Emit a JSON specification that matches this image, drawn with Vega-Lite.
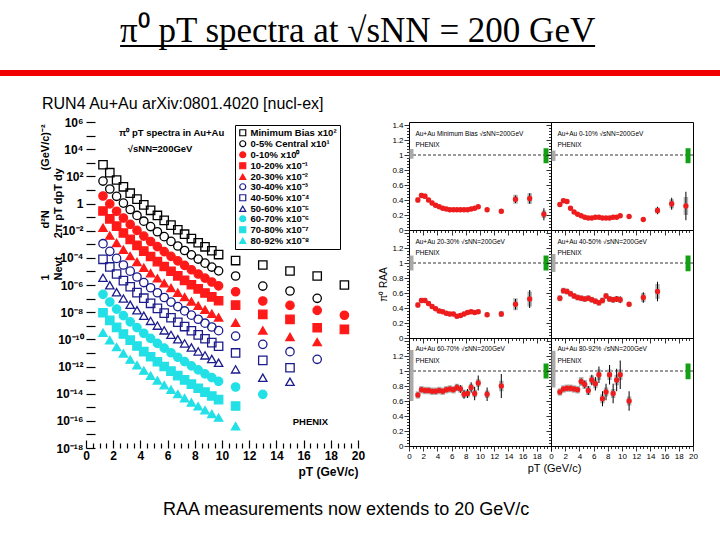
{
"$schema": "https://vega.github.io/schema/vega-lite/v6.json",
"background": "white",
"padding": {"left": 0, "top": 14, "right": 0, "bottom": 0},
"config": {
  "font": "Liberation Sans",
  "axis": {"labelFont": "Liberation Sans", "titleFont": "Liberation Sans", "labelColor": "black", "titleColor": "black", "tickColor": "black", "domain": false, "grid": false, "labelOverlap": false, "labelFlush": false},
  "title": {"color": "black"},
  "view": {"stroke": null}
},
"datasets": {
"spectra": [
{"series":"Minimum Bias x10²","pt":1.25,"log_yield":2.85},{"series":"Minimum Bias x10²","pt":1.75,"log_yield":2.27},{"series":"Minimum Bias x10²","pt":2.25,"log_yield":1.73},{"series":"Minimum Bias x10²","pt":2.75,"log_yield":1.23},{"series":"Minimum Bias x10²","pt":3.25,"log_yield":0.76},{"series":"Minimum Bias x10²","pt":3.75,"log_yield":0.32},{"series":"Minimum Bias x10²","pt":4.25,"log_yield":-0.10},{"series":"Minimum Bias x10²","pt":4.75,"log_yield":-0.50},{"series":"Minimum Bias x10²","pt":5.25,"log_yield":-0.88},{"series":"Minimum Bias x10²","pt":5.75,"log_yield":-1.24},{"series":"Minimum Bias x10²","pt":6.25,"log_yield":-1.59},{"series":"Minimum Bias x10²","pt":6.75,"log_yield":-1.93},{"series":"Minimum Bias x10²","pt":7.25,"log_yield":-2.26},{"series":"Minimum Bias x10²","pt":7.75,"log_yield":-2.58},{"series":"Minimum Bias x10²","pt":8.25,"log_yield":-2.89},{"series":"Minimum Bias x10²","pt":8.75,"log_yield":-3.19},{"series":"Minimum Bias x10²","pt":9.25,"log_yield":-3.48},{"series":"Minimum Bias x10²","pt":9.75,"log_yield":-3.76},{"series":"Minimum Bias x10²","pt":11,"log_yield":-4.2},{"series":"Minimum Bias x10²","pt":13,"log_yield":-4.53},{"series":"Minimum Bias x10²","pt":15,"log_yield":-4.97},{"series":"Minimum Bias x10²","pt":17,"log_yield":-5.34},{"series":"Minimum Bias x10²","pt":19,"log_yield":-6.0},
{"series":"0-5% Central x10¹","pt":1.25,"log_yield":1.65},{"series":"0-5% Central x10¹","pt":1.75,"log_yield":1.07},{"series":"0-5% Central x10¹","pt":2.25,"log_yield":0.53},{"series":"0-5% Central x10¹","pt":2.75,"log_yield":0.03},{"series":"0-5% Central x10¹","pt":3.25,"log_yield":-0.44},{"series":"0-5% Central x10¹","pt":3.75,"log_yield":-0.88},{"series":"0-5% Central x10¹","pt":4.25,"log_yield":-1.30},{"series":"0-5% Central x10¹","pt":4.75,"log_yield":-1.70},{"series":"0-5% Central x10¹","pt":5.25,"log_yield":-2.08},{"series":"0-5% Central x10¹","pt":5.75,"log_yield":-2.44},{"series":"0-5% Central x10¹","pt":6.25,"log_yield":-2.79},{"series":"0-5% Central x10¹","pt":6.75,"log_yield":-3.13},{"series":"0-5% Central x10¹","pt":7.25,"log_yield":-3.46},{"series":"0-5% Central x10¹","pt":7.75,"log_yield":-3.78},{"series":"0-5% Central x10¹","pt":8.25,"log_yield":-4.09},{"series":"0-5% Central x10¹","pt":8.75,"log_yield":-4.39},{"series":"0-5% Central x10¹","pt":9.25,"log_yield":-4.68},{"series":"0-5% Central x10¹","pt":9.75,"log_yield":-4.96},{"series":"0-5% Central x10¹","pt":11,"log_yield":-5.34},{"series":"0-5% Central x10¹","pt":13,"log_yield":-6.08},{"series":"0-5% Central x10¹","pt":15,"log_yield":-6.44},{"series":"0-5% Central x10¹","pt":17,"log_yield":-6.98},
{"series":"0-10% x10⁰","pt":1.25,"log_yield":0.55},{"series":"0-10% x10⁰","pt":1.75,"log_yield":-0.03},{"series":"0-10% x10⁰","pt":2.25,"log_yield":-0.57},{"series":"0-10% x10⁰","pt":2.75,"log_yield":-1.07},{"series":"0-10% x10⁰","pt":3.25,"log_yield":-1.54},{"series":"0-10% x10⁰","pt":3.75,"log_yield":-1.98},{"series":"0-10% x10⁰","pt":4.25,"log_yield":-2.40},{"series":"0-10% x10⁰","pt":4.75,"log_yield":-2.80},{"series":"0-10% x10⁰","pt":5.25,"log_yield":-3.18},{"series":"0-10% x10⁰","pt":5.75,"log_yield":-3.54},{"series":"0-10% x10⁰","pt":6.25,"log_yield":-3.89},{"series":"0-10% x10⁰","pt":6.75,"log_yield":-4.23},{"series":"0-10% x10⁰","pt":7.25,"log_yield":-4.56},{"series":"0-10% x10⁰","pt":7.75,"log_yield":-4.88},{"series":"0-10% x10⁰","pt":8.25,"log_yield":-5.19},{"series":"0-10% x10⁰","pt":8.75,"log_yield":-5.49},{"series":"0-10% x10⁰","pt":9.25,"log_yield":-5.78},{"series":"0-10% x10⁰","pt":9.75,"log_yield":-6.06},{"series":"0-10% x10⁰","pt":11,"log_yield":-6.5},{"series":"0-10% x10⁰","pt":13,"log_yield":-7.18},{"series":"0-10% x10⁰","pt":15,"log_yield":-7.5},{"series":"0-10% x10⁰","pt":17,"log_yield":-7.87},{"series":"0-10% x10⁰","pt":19,"log_yield":-8.23},
{"series":"10-20% x10⁻¹","pt":1.25,"log_yield":-0.55},{"series":"10-20% x10⁻¹","pt":1.75,"log_yield":-1.13},{"series":"10-20% x10⁻¹","pt":2.25,"log_yield":-1.67},{"series":"10-20% x10⁻¹","pt":2.75,"log_yield":-2.17},{"series":"10-20% x10⁻¹","pt":3.25,"log_yield":-2.64},{"series":"10-20% x10⁻¹","pt":3.75,"log_yield":-3.08},{"series":"10-20% x10⁻¹","pt":4.25,"log_yield":-3.50},{"series":"10-20% x10⁻¹","pt":4.75,"log_yield":-3.90},{"series":"10-20% x10⁻¹","pt":5.25,"log_yield":-4.28},{"series":"10-20% x10⁻¹","pt":5.75,"log_yield":-4.64},{"series":"10-20% x10⁻¹","pt":6.25,"log_yield":-4.99},{"series":"10-20% x10⁻¹","pt":6.75,"log_yield":-5.33},{"series":"10-20% x10⁻¹","pt":7.25,"log_yield":-5.66},{"series":"10-20% x10⁻¹","pt":7.75,"log_yield":-5.98},{"series":"10-20% x10⁻¹","pt":8.25,"log_yield":-6.29},{"series":"10-20% x10⁻¹","pt":8.75,"log_yield":-6.59},{"series":"10-20% x10⁻¹","pt":9.25,"log_yield":-6.88},{"series":"10-20% x10⁻¹","pt":9.75,"log_yield":-7.16},{"series":"10-20% x10⁻¹","pt":11,"log_yield":-7.48},{"series":"10-20% x10⁻¹","pt":13,"log_yield":-8.16},{"series":"10-20% x10⁻¹","pt":15,"log_yield":-8.53},{"series":"10-20% x10⁻¹","pt":17,"log_yield":-9.15},{"series":"10-20% x10⁻¹","pt":19,"log_yield":-9.27},
{"series":"20-30% x10⁻²","pt":1.25,"log_yield":-1.78},{"series":"20-30% x10⁻²","pt":1.75,"log_yield":-2.36},{"series":"20-30% x10⁻²","pt":2.25,"log_yield":-2.90},{"series":"20-30% x10⁻²","pt":2.75,"log_yield":-3.40},{"series":"20-30% x10⁻²","pt":3.25,"log_yield":-3.87},{"series":"20-30% x10⁻²","pt":3.75,"log_yield":-4.31},{"series":"20-30% x10⁻²","pt":4.25,"log_yield":-4.73},{"series":"20-30% x10⁻²","pt":4.75,"log_yield":-5.13},{"series":"20-30% x10⁻²","pt":5.25,"log_yield":-5.51},{"series":"20-30% x10⁻²","pt":5.75,"log_yield":-5.87},{"series":"20-30% x10⁻²","pt":6.25,"log_yield":-6.22},{"series":"20-30% x10⁻²","pt":6.75,"log_yield":-6.56},{"series":"20-30% x10⁻²","pt":7.25,"log_yield":-6.89},{"series":"20-30% x10⁻²","pt":7.75,"log_yield":-7.21},{"series":"20-30% x10⁻²","pt":8.25,"log_yield":-7.52},{"series":"20-30% x10⁻²","pt":8.75,"log_yield":-7.82},{"series":"20-30% x10⁻²","pt":9.25,"log_yield":-8.11},{"series":"20-30% x10⁻²","pt":9.75,"log_yield":-8.39},{"series":"20-30% x10⁻²","pt":11,"log_yield":-8.78},{"series":"20-30% x10⁻²","pt":13,"log_yield":-9.34},{"series":"20-30% x10⁻²","pt":15,"log_yield":-9.83},{"series":"20-30% x10⁻²","pt":17,"log_yield":-10.2},
{"series":"30-40% x10⁻³","pt":1.25,"log_yield":-2.96},{"series":"30-40% x10⁻³","pt":1.75,"log_yield":-3.52},{"series":"30-40% x10⁻³","pt":2.25,"log_yield":-4.04},{"series":"30-40% x10⁻³","pt":2.75,"log_yield":-4.53},{"series":"30-40% x10⁻³","pt":3.25,"log_yield":-4.98},{"series":"30-40% x10⁻³","pt":3.75,"log_yield":-5.41},{"series":"30-40% x10⁻³","pt":4.25,"log_yield":-5.82},{"series":"30-40% x10⁻³","pt":4.75,"log_yield":-6.20},{"series":"30-40% x10⁻³","pt":5.25,"log_yield":-6.57},{"series":"30-40% x10⁻³","pt":5.75,"log_yield":-6.92},{"series":"30-40% x10⁻³","pt":6.25,"log_yield":-7.26},{"series":"30-40% x10⁻³","pt":6.75,"log_yield":-7.59},{"series":"30-40% x10⁻³","pt":7.25,"log_yield":-7.91},{"series":"30-40% x10⁻³","pt":7.75,"log_yield":-8.22},{"series":"30-40% x10⁻³","pt":8.25,"log_yield":-8.52},{"series":"30-40% x10⁻³","pt":8.75,"log_yield":-8.81},{"series":"30-40% x10⁻³","pt":9.25,"log_yield":-9.09},{"series":"30-40% x10⁻³","pt":9.75,"log_yield":-9.36},{"series":"30-40% x10⁻³","pt":11,"log_yield":-9.76},{"series":"30-40% x10⁻³","pt":13,"log_yield":-10.37},{"series":"30-40% x10⁻³","pt":15,"log_yield":-10.91},{"series":"30-40% x10⁻³","pt":17,"log_yield":-11.47},
{"series":"40-50% x10⁻⁴","pt":1.25,"log_yield":-4.11},{"series":"40-50% x10⁻⁴","pt":1.75,"log_yield":-4.67},{"series":"40-50% x10⁻⁴","pt":2.25,"log_yield":-5.19},{"series":"40-50% x10⁻⁴","pt":2.75,"log_yield":-5.68},{"series":"40-50% x10⁻⁴","pt":3.25,"log_yield":-6.13},{"series":"40-50% x10⁻⁴","pt":3.75,"log_yield":-6.56},{"series":"40-50% x10⁻⁴","pt":4.25,"log_yield":-6.97},{"series":"40-50% x10⁻⁴","pt":4.75,"log_yield":-7.35},{"series":"40-50% x10⁻⁴","pt":5.25,"log_yield":-7.72},{"series":"40-50% x10⁻⁴","pt":5.75,"log_yield":-8.07},{"series":"40-50% x10⁻⁴","pt":6.25,"log_yield":-8.41},{"series":"40-50% x10⁻⁴","pt":6.75,"log_yield":-8.74},{"series":"40-50% x10⁻⁴","pt":7.25,"log_yield":-9.06},{"series":"40-50% x10⁻⁴","pt":7.75,"log_yield":-9.37},{"series":"40-50% x10⁻⁴","pt":8.25,"log_yield":-9.67},{"series":"40-50% x10⁻⁴","pt":8.75,"log_yield":-9.96},{"series":"40-50% x10⁻⁴","pt":9.25,"log_yield":-10.24},{"series":"40-50% x10⁻⁴","pt":9.75,"log_yield":-10.51},{"series":"40-50% x10⁻⁴","pt":11,"log_yield":-11.0},{"series":"40-50% x10⁻⁴","pt":13,"log_yield":-11.55},{"series":"40-50% x10⁻⁴","pt":15,"log_yield":-12.09},
{"series":"50-60% x10⁻⁵","pt":1.25,"log_yield":-5.47},{"series":"50-60% x10⁻⁵","pt":1.75,"log_yield":-6.02},{"series":"50-60% x10⁻⁵","pt":2.25,"log_yield":-6.53},{"series":"50-60% x10⁻⁵","pt":2.75,"log_yield":-7.00},{"series":"50-60% x10⁻⁵","pt":3.25,"log_yield":-7.45},{"series":"50-60% x10⁻⁵","pt":3.75,"log_yield":-7.86},{"series":"50-60% x10⁻⁵","pt":4.25,"log_yield":-8.26},{"series":"50-60% x10⁻⁵","pt":4.75,"log_yield":-8.64},{"series":"50-60% x10⁻⁵","pt":5.25,"log_yield":-8.99},{"series":"50-60% x10⁻⁵","pt":5.75,"log_yield":-9.34},{"series":"50-60% x10⁻⁵","pt":6.25,"log_yield":-9.67},{"series":"50-60% x10⁻⁵","pt":6.75,"log_yield":-9.99},{"series":"50-60% x10⁻⁵","pt":7.25,"log_yield":-10.30},{"series":"50-60% x10⁻⁵","pt":7.75,"log_yield":-10.60},{"series":"50-60% x10⁻⁵","pt":8.25,"log_yield":-10.89},{"series":"50-60% x10⁻⁵","pt":8.75,"log_yield":-11.18},{"series":"50-60% x10⁻⁵","pt":9.25,"log_yield":-11.45},{"series":"50-60% x10⁻⁵","pt":9.75,"log_yield":-11.72},{"series":"50-60% x10⁻⁵","pt":11,"log_yield":-12.21},{"series":"50-60% x10⁻⁵","pt":13,"log_yield":-12.83},{"series":"50-60% x10⁻⁵","pt":15,"log_yield":-13.12},
{"series":"60-70% x10⁻⁶","pt":1.25,"log_yield":-6.69},{"series":"60-70% x10⁻⁶","pt":1.75,"log_yield":-7.25},{"series":"60-70% x10⁻⁶","pt":2.25,"log_yield":-7.77},{"series":"60-70% x10⁻⁶","pt":2.75,"log_yield":-8.26},{"series":"60-70% x10⁻⁶","pt":3.25,"log_yield":-8.71},{"series":"60-70% x10⁻⁶","pt":3.75,"log_yield":-9.14},{"series":"60-70% x10⁻⁶","pt":4.25,"log_yield":-9.55},{"series":"60-70% x10⁻⁶","pt":4.75,"log_yield":-9.93},{"series":"60-70% x10⁻⁶","pt":5.25,"log_yield":-10.30},{"series":"60-70% x10⁻⁶","pt":5.75,"log_yield":-10.65},{"series":"60-70% x10⁻⁶","pt":6.25,"log_yield":-10.99},{"series":"60-70% x10⁻⁶","pt":6.75,"log_yield":-11.32},{"series":"60-70% x10⁻⁶","pt":7.25,"log_yield":-11.64},{"series":"60-70% x10⁻⁶","pt":7.75,"log_yield":-11.95},{"series":"60-70% x10⁻⁶","pt":8.25,"log_yield":-12.25},{"series":"60-70% x10⁻⁶","pt":8.75,"log_yield":-12.54},{"series":"60-70% x10⁻⁶","pt":9.25,"log_yield":-12.82},{"series":"60-70% x10⁻⁶","pt":9.75,"log_yield":-13.09},{"series":"60-70% x10⁻⁶","pt":11,"log_yield":-13.51},{"series":"60-70% x10⁻⁶","pt":13,"log_yield":-14.05},
{"series":"70-80% x10⁻⁷","pt":1.25,"log_yield":-8.04},{"series":"70-80% x10⁻⁷","pt":1.75,"log_yield":-8.60},{"series":"70-80% x10⁻⁷","pt":2.25,"log_yield":-9.12},{"series":"70-80% x10⁻⁷","pt":2.75,"log_yield":-9.61},{"series":"70-80% x10⁻⁷","pt":3.25,"log_yield":-10.06},{"series":"70-80% x10⁻⁷","pt":3.75,"log_yield":-10.49},{"series":"70-80% x10⁻⁷","pt":4.25,"log_yield":-10.90},{"series":"70-80% x10⁻⁷","pt":4.75,"log_yield":-11.28},{"series":"70-80% x10⁻⁷","pt":5.25,"log_yield":-11.65},{"series":"70-80% x10⁻⁷","pt":5.75,"log_yield":-12.00},{"series":"70-80% x10⁻⁷","pt":6.25,"log_yield":-12.34},{"series":"70-80% x10⁻⁷","pt":6.75,"log_yield":-12.67},{"series":"70-80% x10⁻⁷","pt":7.25,"log_yield":-12.99},{"series":"70-80% x10⁻⁷","pt":7.75,"log_yield":-13.30},{"series":"70-80% x10⁻⁷","pt":8.25,"log_yield":-13.60},{"series":"70-80% x10⁻⁷","pt":8.75,"log_yield":-13.89},{"series":"70-80% x10⁻⁷","pt":9.25,"log_yield":-14.17},{"series":"70-80% x10⁻⁷","pt":9.75,"log_yield":-14.44},{"series":"70-80% x10⁻⁷","pt":11,"log_yield":-14.91},
{"series":"80-92% x10⁻⁸","pt":1.25,"log_yield":-9.51},{"series":"80-92% x10⁻⁸","pt":1.75,"log_yield":-10.06},{"series":"80-92% x10⁻⁸","pt":2.25,"log_yield":-10.57},{"series":"80-92% x10⁻⁸","pt":2.75,"log_yield":-11.04},{"series":"80-92% x10⁻⁸","pt":3.25,"log_yield":-11.49},{"series":"80-92% x10⁻⁸","pt":3.75,"log_yield":-11.90},{"series":"80-92% x10⁻⁸","pt":4.25,"log_yield":-12.30},{"series":"80-92% x10⁻⁸","pt":4.75,"log_yield":-12.68},{"series":"80-92% x10⁻⁸","pt":5.25,"log_yield":-13.03},{"series":"80-92% x10⁻⁸","pt":5.75,"log_yield":-13.38},{"series":"80-92% x10⁻⁸","pt":6.25,"log_yield":-13.71},{"series":"80-92% x10⁻⁸","pt":6.75,"log_yield":-14.03},{"series":"80-92% x10⁻⁸","pt":7.25,"log_yield":-14.34},{"series":"80-92% x10⁻⁸","pt":7.75,"log_yield":-14.64},{"series":"80-92% x10⁻⁸","pt":8.25,"log_yield":-14.93},{"series":"80-92% x10⁻⁸","pt":8.75,"log_yield":-15.22},{"series":"80-92% x10⁻⁸","pt":9.25,"log_yield":-15.49},{"series":"80-92% x10⁻⁸","pt":9.75,"log_yield":-15.76},{"series":"80-92% x10⁻⁸","pt":11,"log_yield":-16.39}
],
"raa": [
{"panel":"mb","pt":1.25,"raa":0.40,"stat":0.006,"sys":0.035},{"panel":"mb","pt":1.75,"raa":0.46,"stat":0.006,"sys":0.035},{"panel":"mb","pt":2.25,"raa":0.45,"stat":0.006,"sys":0.035},{"panel":"mb","pt":2.75,"raa":0.40,"stat":0.006,"sys":0.03},{"panel":"mb","pt":3.25,"raa":0.36,"stat":0.006,"sys":0.03},{"panel":"mb","pt":3.75,"raa":0.33,"stat":0.006,"sys":0.03},{"panel":"mb","pt":4.25,"raa":0.31,"stat":0.006,"sys":0.025},{"panel":"mb","pt":4.75,"raa":0.29,"stat":0.006,"sys":0.025},{"panel":"mb","pt":5.25,"raa":0.28,"stat":0.006,"sys":0.025},{"panel":"mb","pt":5.75,"raa":0.27,"stat":0.006,"sys":0.025},{"panel":"mb","pt":6.25,"raa":0.27,"stat":0.007,"sys":0.025},{"panel":"mb","pt":6.75,"raa":0.27,"stat":0.008,"sys":0.025},{"panel":"mb","pt":7.25,"raa":0.27,"stat":0.008,"sys":0.025},{"panel":"mb","pt":7.75,"raa":0.27,"stat":0.009,"sys":0.025},{"panel":"mb","pt":8.25,"raa":0.27,"stat":0.01,"sys":0.025},{"panel":"mb","pt":8.75,"raa":0.28,"stat":0.011,"sys":0.025},{"panel":"mb","pt":9.25,"raa":0.29,"stat":0.012,"sys":0.025},{"panel":"mb","pt":9.75,"raa":0.31,"stat":0.014,"sys":0.025},{"panel":"mb","pt":11,"raa":0.27,"stat":0.018,"sys":0.025},{"panel":"mb","pt":13,"raa":0.25,"stat":0.025,"sys":0.03},{"panel":"mb","pt":15,"raa":0.41,"stat":0.05,"sys":0.06},{"panel":"mb","pt":17,"raa":0.42,"stat":0.07,"sys":0.07},{"panel":"mb","pt":19,"raa":0.21,"stat":0.08,"sys":0.05},
{"panel":"c0010","pt":1.25,"raa":0.34,"stat":0.006,"sys":0.03},{"panel":"c0010","pt":1.75,"raa":0.39,"stat":0.006,"sys":0.03},{"panel":"c0010","pt":2.25,"raa":0.38,"stat":0.006,"sys":0.03},{"panel":"c0010","pt":2.75,"raa":0.29,"stat":0.006,"sys":0.025},{"panel":"c0010","pt":3.25,"raa":0.24,"stat":0.006,"sys":0.02},{"panel":"c0010","pt":3.75,"raa":0.21,"stat":0.006,"sys":0.02},{"panel":"c0010","pt":4.25,"raa":0.19,"stat":0.006,"sys":0.02},{"panel":"c0010","pt":4.75,"raa":0.17,"stat":0.006,"sys":0.02},{"panel":"c0010","pt":5.25,"raa":0.16,"stat":0.006,"sys":0.02},{"panel":"c0010","pt":5.75,"raa":0.16,"stat":0.006,"sys":0.02},{"panel":"c0010","pt":6.25,"raa":0.17,"stat":0.007,"sys":0.02},{"panel":"c0010","pt":6.75,"raa":0.17,"stat":0.008,"sys":0.02},{"panel":"c0010","pt":7.25,"raa":0.16,"stat":0.008,"sys":0.02},{"panel":"c0010","pt":7.75,"raa":0.16,"stat":0.009,"sys":0.02},{"panel":"c0010","pt":8.25,"raa":0.16,"stat":0.01,"sys":0.02},{"panel":"c0010","pt":8.75,"raa":0.17,"stat":0.011,"sys":0.02},{"panel":"c0010","pt":9.25,"raa":0.17,"stat":0.012,"sys":0.02},{"panel":"c0010","pt":9.75,"raa":0.19,"stat":0.013,"sys":0.02},{"panel":"c0010","pt":11,"raa":0.18,"stat":0.016,"sys":0.02},{"panel":"c0010","pt":13,"raa":0.14,"stat":0.02,"sys":0.02},{"panel":"c0010","pt":15,"raa":0.26,"stat":0.05,"sys":0.04},{"panel":"c0010","pt":17,"raa":0.35,"stat":0.08,"sys":0.06},{"panel":"c0010","pt":19,"raa":0.32,"stat":0.19,"sys":0.12},
{"panel":"c2030","pt":1.25,"raa":0.44,"stat":0.006,"sys":0.035},{"panel":"c2030","pt":1.75,"raa":0.50,"stat":0.006,"sys":0.035},{"panel":"c2030","pt":2.25,"raa":0.50,"stat":0.006,"sys":0.035},{"panel":"c2030","pt":2.75,"raa":0.46,"stat":0.006,"sys":0.03},{"panel":"c2030","pt":3.25,"raa":0.42,"stat":0.006,"sys":0.03},{"panel":"c2030","pt":3.75,"raa":0.39,"stat":0.006,"sys":0.03},{"panel":"c2030","pt":4.25,"raa":0.36,"stat":0.006,"sys":0.03},{"panel":"c2030","pt":4.75,"raa":0.35,"stat":0.006,"sys":0.03},{"panel":"c2030","pt":5.25,"raa":0.33,"stat":0.006,"sys":0.03},{"panel":"c2030","pt":5.75,"raa":0.32,"stat":0.007,"sys":0.03},{"panel":"c2030","pt":6.25,"raa":0.32,"stat":0.008,"sys":0.03},{"panel":"c2030","pt":6.75,"raa":0.29,"stat":0.009,"sys":0.03},{"panel":"c2030","pt":7.25,"raa":0.30,"stat":0.01,"sys":0.03},{"panel":"c2030","pt":7.75,"raa":0.32,"stat":0.011,"sys":0.03},{"panel":"c2030","pt":8.25,"raa":0.34,"stat":0.012,"sys":0.03},{"panel":"c2030","pt":8.75,"raa":0.35,"stat":0.013,"sys":0.03},{"panel":"c2030","pt":9.25,"raa":0.34,"stat":0.014,"sys":0.03},{"panel":"c2030","pt":9.75,"raa":0.35,"stat":0.015,"sys":0.03},{"panel":"c2030","pt":11,"raa":0.31,"stat":0.02,"sys":0.03},{"panel":"c2030","pt":13,"raa":0.32,"stat":0.03,"sys":0.04},{"panel":"c2030","pt":15,"raa":0.45,"stat":0.07,"sys":0.08},{"panel":"c2030","pt":17,"raa":0.52,"stat":0.12,"sys":0.1},
{"panel":"c4050","pt":1.25,"raa":0.53,"stat":0.008,"sys":0.04},{"panel":"c4050","pt":1.75,"raa":0.63,"stat":0.008,"sys":0.04},{"panel":"c4050","pt":2.25,"raa":0.62,"stat":0.008,"sys":0.04},{"panel":"c4050","pt":2.75,"raa":0.59,"stat":0.008,"sys":0.04},{"panel":"c4050","pt":3.25,"raa":0.56,"stat":0.008,"sys":0.04},{"panel":"c4050","pt":3.75,"raa":0.54,"stat":0.008,"sys":0.04},{"panel":"c4050","pt":4.25,"raa":0.53,"stat":0.008,"sys":0.04},{"panel":"c4050","pt":4.75,"raa":0.52,"stat":0.01,"sys":0.04},{"panel":"c4050","pt":5.25,"raa":0.53,"stat":0.012,"sys":0.04},{"panel":"c4050","pt":5.75,"raa":0.51,"stat":0.014,"sys":0.04},{"panel":"c4050","pt":6.25,"raa":0.49,"stat":0.016,"sys":0.04},{"panel":"c4050","pt":6.75,"raa":0.47,"stat":0.018,"sys":0.04},{"panel":"c4050","pt":7.25,"raa":0.50,"stat":0.02,"sys":0.04},{"panel":"c4050","pt":7.75,"raa":0.56,"stat":0.025,"sys":0.04},{"panel":"c4050","pt":8.25,"raa":0.52,"stat":0.03,"sys":0.04},{"panel":"c4050","pt":8.75,"raa":0.51,"stat":0.035,"sys":0.04},{"panel":"c4050","pt":9.25,"raa":0.52,"stat":0.04,"sys":0.04},{"panel":"c4050","pt":9.75,"raa":0.51,"stat":0.045,"sys":0.04},{"panel":"c4050","pt":11,"raa":0.45,"stat":0.03,"sys":0.03},{"panel":"c4050","pt":13,"raa":0.54,"stat":0.07,"sys":0.06},{"panel":"c4050","pt":15,"raa":0.62,"stat":0.13,"sys":0.1},
{"panel":"c6070","pt":1.25,"raa":0.68,"stat":0.01,"sys":0.05},{"panel":"c6070","pt":1.75,"raa":0.75,"stat":0.01,"sys":0.05},{"panel":"c6070","pt":2.25,"raa":0.74,"stat":0.01,"sys":0.05},{"panel":"c6070","pt":2.75,"raa":0.74,"stat":0.01,"sys":0.05},{"panel":"c6070","pt":3.25,"raa":0.73,"stat":0.01,"sys":0.05},{"panel":"c6070","pt":3.75,"raa":0.73,"stat":0.012,"sys":0.05},{"panel":"c6070","pt":4.25,"raa":0.74,"stat":0.014,"sys":0.05},{"panel":"c6070","pt":4.75,"raa":0.73,"stat":0.016,"sys":0.05},{"panel":"c6070","pt":5.25,"raa":0.75,"stat":0.018,"sys":0.05},{"panel":"c6070","pt":5.75,"raa":0.76,"stat":0.02,"sys":0.05},{"panel":"c6070","pt":6.25,"raa":0.75,"stat":0.03,"sys":0.05},{"panel":"c6070","pt":6.75,"raa":0.78,"stat":0.04,"sys":0.05},{"panel":"c6070","pt":7.25,"raa":0.76,"stat":0.05,"sys":0.05},{"panel":"c6070","pt":7.75,"raa":0.69,"stat":0.06,"sys":0.05},{"panel":"c6070","pt":8.25,"raa":0.70,"stat":0.06,"sys":0.05},{"panel":"c6070","pt":8.75,"raa":0.78,"stat":0.07,"sys":0.05},{"panel":"c6070","pt":9.25,"raa":0.70,"stat":0.09,"sys":0.05},{"panel":"c6070","pt":9.75,"raa":0.84,"stat":0.1,"sys":0.05},{"panel":"c6070","pt":11,"raa":0.69,"stat":0.09,"sys":0.05},{"panel":"c6070","pt":13,"raa":0.80,"stat":0.16,"sys":0.07},
{"panel":"c8092","pt":1.25,"raa":0.72,"stat":0.015,"sys":0.05},{"panel":"c8092","pt":1.75,"raa":0.76,"stat":0.015,"sys":0.05},{"panel":"c8092","pt":2.25,"raa":0.77,"stat":0.015,"sys":0.05},{"panel":"c8092","pt":2.75,"raa":0.77,"stat":0.015,"sys":0.05},{"panel":"c8092","pt":3.25,"raa":0.76,"stat":0.02,"sys":0.05},{"panel":"c8092","pt":3.75,"raa":0.75,"stat":0.025,"sys":0.05},{"panel":"c8092","pt":4.25,"raa":0.86,"stat":0.04,"sys":0.06},{"panel":"c8092","pt":4.75,"raa":0.82,"stat":0.05,"sys":0.06},{"panel":"c8092","pt":5.25,"raa":0.74,"stat":0.06,"sys":0.06},{"panel":"c8092","pt":5.75,"raa":0.88,"stat":0.07,"sys":0.06},{"panel":"c8092","pt":6.25,"raa":0.83,"stat":0.09,"sys":0.06},{"panel":"c8092","pt":6.75,"raa":0.95,"stat":0.11,"sys":0.07},{"panel":"c8092","pt":7.25,"raa":0.63,"stat":0.1,"sys":0.06},{"panel":"c8092","pt":7.75,"raa":0.72,"stat":0.11,"sys":0.06},{"panel":"c8092","pt":8.25,"raa":0.95,"stat":0.13,"sys":0.07},{"panel":"c8092","pt":8.75,"raa":0.70,"stat":0.13,"sys":0.06},{"panel":"c8092","pt":9.25,"raa":0.88,"stat":0.15,"sys":0.07},{"panel":"c8092","pt":9.75,"raa":0.95,"stat":0.19,"sys":0.07},{"panel":"c8092","pt":11,"raa":0.60,"stat":0.13,"sys":0.06}
],
"global": [
{"panel":"mb","kind":"ncoll","lo":0.95,"hi":1.08},{"panel":"mb","kind":"norm","lo":0.89,"hi":1.09},
{"panel":"c0010","kind":"ncoll","lo":0.92,"hi":1.06},{"panel":"c0010","kind":"norm","lo":0.89,"hi":1.09},
{"panel":"c2030","kind":"ncoll","lo":0.9,"hi":1.1},{"panel":"c2030","kind":"norm","lo":0.9,"hi":1.1},
{"panel":"c4050","kind":"ncoll","lo":0.88,"hi":1.12},{"panel":"c4050","kind":"norm","lo":0.89,"hi":1.1},
{"panel":"c6070","kind":"ncoll","lo":0.6,"hi":1.28},{"panel":"c6070","kind":"norm","lo":0.9,"hi":1.1},
{"panel":"c8092","kind":"ncoll","lo":0.78,"hi":1.27},{"panel":"c8092","kind":"norm","lo":0.89,"hi":1.1}
]
},
"spacing": 20,
"resolve": {"scale": {"shape": "independent", "stroke": "independent", "fill": "independent"}, "legend": {"shape": "independent", "stroke": "independent", "fill": "independent"}},
"vconcat": [
{
  "spacing": 20,
  "center": true,
  "vconcat": [
    {
      "width": 475, "height": 2,
      "view": {"fill": "black", "stroke": null},
      "title": {"text": "π⁰ pT spectra  at √sNN = 200 GeV", "font": "Liberation Serif", "fontSize": 35, "fontWeight": "normal", "baseline": "alphabetic", "offset": -34, "anchor": "middle", "color": "black"},
      "data": {"values": [{"blank": 0}]},
      "mark": {"type": "point", "opacity": 0},
      "encoding": {}
    },
    {
      "width": 720, "height": 6,
      "view": {"fill": "#f00000", "stroke": null},
      "data": {"values": [{"blank": 0}]},
      "mark": {"type": "point", "opacity": 0},
      "encoding": {}
    }
  ]
},
{
  "spacing": 13,
  "resolve": {"scale": {"shape": "independent", "stroke": "independent", "fill": "independent"}, "legend": {"shape": "independent", "stroke": "independent", "fill": "independent"}},
  "title": {"text": "RAA measurements now extends to 20 GeV/c", "orient": "bottom", "anchor": "start", "dx": 163, "offset": 24, "fontSize": 18, "fontWeight": "normal", "font": "Liberation Sans", "color": "black"},
  "hconcat": [
    {
      "width": 26, "height": 10,
      "view": {"stroke": null},
      "data": {"values": [{"blank": 0}]},
      "mark": {"type": "point", "opacity": 0},
      "encoding": {}
    },
    {
      "width": 272, "height": 326,
      "view": {"stroke": null},
      "title": {"text": "RUN4 Au+Au arXiv:0801.4020 [nucl-ex]", "anchor": "start", "frame": "group", "dx": -44, "offset": 4, "fontSize": 16, "fontWeight": "normal", "font": "Liberation Sans", "color": "black"},
      "layer": [
        {
          "data": {"name": "spectra"},
          "mark": {"type": "point", "size": 70, "strokeWidth": 1.3, "opacity": 1},
          "encoding": {
            "x": {"field": "pt", "type": "quantitative", "scale": {"domain": [0, 20], "nice": false, "zero": false},
              "axis": {"title": "pT (GeV/c)", "titleAnchor": "end", "titleFontSize": 12, "titleFontWeight": "bold", "titlePadding": 2, "labelOverlap": false, "tickCount": 100,
                "values": [0,0.5,1,1.5,2,2.5,3,3.5,4,4.5,5,5.5,6,6.5,7,7.5,8,8.5,9,9.5,10,10.5,11,11.5,12,12.5,13,13.5,14,14.5,15,15.5,16,16.5,17,17.5,18,18.5,19,19.5,20],
                "labelExpr": "datum.value % 2 == 0 ? '' + datum.value : ''",
                "tickSize": {"condition": {"test": "datum.value % 2 == 0", "value": -8}, "value": -5},
                "tickWidth": 1.2, "labelPadding": 10, "labelFontSize": 12, "labelFontWeight": "bold"}},
            "y": {"field": "log_yield", "type": "quantitative", "scale": {"domain": [-18, 6], "nice": false, "zero": false},
              "axis": {"title": ["1\u00a0\u00a0\u00a0\u00a0\u00a0\u00a0\u00a0\u00a0\u00a0\u00a0\u00a0\u00a0\u00a0\u00a0\u00a0d²N\u00a0\u00a0\u00a0\u00a0\u00a0\u00a0\u00a0\u00a0\u00a0\u00a0\u00a0\u00a0\u00a0(GeV/c)⁻²", "Nevt\u00a0\u00a0\u00a0\u00a0\u00a0\u00a02π pT dpT dy"], "titleFontSize": 11, "titleFontWeight": "bold", "titleX": -41, "titleY": 158, "titleAlign": "left", "titleBaseline": "middle", "labelOverlap": false, "tickCount": 100,
                "values": [-18,-17,-16,-15,-14,-13,-12,-11,-10,-9,-8,-7,-6,-5,-4,-3,-2,-1,0,1,2,3,4,5,6],
                "labelExpr": "datum.value == 0 ? '1' : (datum.value % 2 != 0 ? '' : '10' + replace(replace(replace(replace(replace(replace(replace(toString(datum.value), '-', '⁻'), '0', '⁰'), '1', '¹'), '2', '²'), '4', '⁴'), '6', '⁶'), '8', '⁸'))",
                "tickSize": -9, "tickWidth": 1.2, "labelPadding": 12, "labelFontSize": 12, "labelFontWeight": "bold"}},
            "shape": {"field": "series", "type": "nominal",
              "scale": {"domain": ["Minimum Bias x10²","0-5% Central x10¹","0-10% x10⁰","10-20% x10⁻¹","20-30% x10⁻²","30-40% x10⁻³","40-50% x10⁻⁴","50-60% x10⁻⁵","60-70% x10⁻⁶","70-80% x10⁻⁷","80-92% x10⁻⁸"],
                "range": ["square","circle","circle","square","triangle-up","circle","square","triangle-up","circle","square","triangle-up"]},
              "legend": {"title": null, "orient": "none", "legendX": 149, "legendY": 3, "strokeColor": "black", "fillColor": "white", "padding": 3, "symbolSize": 36, "labelFontSize": 9.5, "labelFontWeight": "bold", "rowPadding": -3, "symbolStrokeWidth": 1.2, "labelOffset": 3, "labelColor": "black"}},
            "stroke": {"field": "series", "type": "nominal",
              "scale": {"domain": ["Minimum Bias x10²","0-5% Central x10¹","0-10% x10⁰","10-20% x10⁻¹","20-30% x10⁻²","30-40% x10⁻³","40-50% x10⁻⁴","50-60% x10⁻⁵","60-70% x10⁻⁶","70-80% x10⁻⁷","80-92% x10⁻⁸"],
                "range": ["#000000","#000000","#ff1a1a","#ff1a1a","#ff1a1a","#1c1c8c","#1c1c8c","#1c1c8c","#22e0e6","#22e0e6","#22e0e6"]},
              "legend": {"title": null, "orient": "none", "legendX": 149, "legendY": 3, "strokeColor": "black", "fillColor": "white", "padding": 3, "symbolSize": 36, "labelFontSize": 9.5, "labelFontWeight": "bold", "rowPadding": -3, "symbolStrokeWidth": 1.2, "labelOffset": 3, "labelColor": "black"}},
            "fill": {"field": "series", "type": "nominal",
              "scale": {"domain": ["Minimum Bias x10²","0-5% Central x10¹","0-10% x10⁰","10-20% x10⁻¹","20-30% x10⁻²","30-40% x10⁻³","40-50% x10⁻⁴","50-60% x10⁻⁵","60-70% x10⁻⁶","70-80% x10⁻⁷","80-92% x10⁻⁸"],
                "range": ["transparent","transparent","#ff1a1a","#ff1a1a","#ff1a1a","transparent","transparent","transparent","#22e0e6","#22e0e6","#22e0e6"]},
              "legend": {"title": null, "orient": "none", "legendX": 149, "legendY": 3, "strokeColor": "black", "fillColor": "white", "padding": 3, "symbolSize": 36, "labelFontSize": 9.5, "labelFontWeight": "bold", "rowPadding": -3, "symbolStrokeWidth": 1.2, "labelOffset": 3, "labelColor": "black"}}
          }
        },
        {
          "data": {"values": [{"note": "π⁰ pT spectra in Au+Au"}]},
          "mark": {"type": "text", "fontSize": 9.5, "fontWeight": "bold", "align": "center", "baseline": "middle", "color": "black"},
          "encoding": {"x": {"datum": 6.3, "type": "quantitative"}, "y": {"datum": 5.19, "type": "quantitative"}, "text": {"field": "note"}}
        },
        {
          "data": {"values": [{"note": "√sNN=200GeV"}]},
          "mark": {"type": "text", "fontSize": 9.5, "fontWeight": "bold", "align": "center", "baseline": "middle", "color": "black"},
          "encoding": {"x": {"datum": 5.45, "type": "quantitative"}, "y": {"datum": 4.0, "type": "quantitative"}, "text": {"field": "note"}}
        },
        {
          "data": {"values": [{"note": "PHENIX"}]},
          "mark": {"type": "text", "fontSize": 9.5, "fontWeight": "bold", "align": "center", "baseline": "middle", "color": "black"},
          "encoding": {"x": {"datum": 16.5, "type": "quantitative"}, "y": {"datum": -16.1, "type": "quantitative"}, "text": {"field": "note"}}
        }
      ]
    },
    {
      "columns": 2,
      "spacing": 0,
      "bounds": "flush",
      "concat": [
        {
          "width": 142, "height": 108,
          "view": {"stroke": "black", "strokeWidth": 1},
          "layer": [
            {"data": {"values": [{"ref": 1}]}, "mark": {"type": "rule", "strokeDash": [3, 2], "strokeWidth": 0.8, "color": "black"},
             "encoding": {"y": {"field": "ref", "type": "quantitative", "title": null, "scale": {"domain": [0, 1.44], "nice": false, "zero": false}}}},
            {"data": {"name": "global"}, "transform": [{"filter": "datum.panel == 'mb' && datum.kind == 'ncoll'"}], "mark": {"type": "rule", "strokeWidth": 4, "color": "#aaaaaa"},
             "encoding": {"x": {"datum": 0.35, "type": "quantitative", "scale": {"domain": [0, 20], "nice": false, "zero": false}}, "y": {"field": "lo", "type": "quantitative", "title": null, "scale": {"domain": [0, 1.44], "nice": false, "zero": false}}, "y2": {"field": "hi"}}},
            {"data": {"name": "global"}, "transform": [{"filter": "datum.panel == 'mb' && datum.kind == 'norm'"}], "mark": {"type": "rule", "strokeWidth": 5, "color": "#14a014"},
             "encoding": {"x": {"datum": 19.3, "type": "quantitative", "scale": {"domain": [0, 20], "nice": false, "zero": false}}, "y": {"field": "lo", "type": "quantitative", "title": null, "scale": {"domain": [0, 1.44], "nice": false, "zero": false}}, "y2": {"field": "hi"}}},
            {"data": {"name": "raa"}, "transform": [{"filter": "datum.panel == 'mb'"}], "mark": {"type": "errorbar", "thickness": 4.5, "color": "#b4b4b4"},
             "encoding": {"x": {"field": "pt", "type": "quantitative", "title": null, "scale": {"domain": [0, 20], "nice": false, "zero": false}}, "y": {"field": "raa", "type": "quantitative", "title": null, "scale": {"domain": [0, 1.44], "nice": false, "zero": false}}, "yError": {"field": "sys"}}},
            {"data": {"name": "raa"}, "transform": [{"filter": "datum.panel == 'mb'"}], "mark": {"type": "errorbar", "thickness": 1, "color": "black"},
             "encoding": {"x": {"field": "pt", "type": "quantitative", "title": null, "scale": {"domain": [0, 20], "nice": false, "zero": false}}, "y": {"field": "raa", "type": "quantitative", "title": null, "scale": {"domain": [0, 1.44], "nice": false, "zero": false}}, "yError": {"field": "stat"}}},
            {"data": {"name": "raa"}, "transform": [{"filter": "datum.panel == 'mb'"}], "mark": {"type": "point", "filled": true, "size": 28, "color": "#ee1c1c", "opacity": 1},
             "encoding": {
               "x": {"field": "pt", "type": "quantitative", "scale": {"domain": [0, 20], "nice": false, "zero": false},
                 "axis": {"title": null, "labels": false, "labelOverlap": false, "tickCount": 100, "values": [0,0.5,1,1.5,2,2.5,3,3.5,4,4.5,5,5.5,6,6.5,7,7.5,8,8.5,9,9.5,10,10.5,11,11.5,12,12.5,13,13.5,14,14.5,15,15.5,16,16.5,17,17.5,18,18.5,19,19.5,20], "tickSize": {"condition": {"test": "datum.value % 2 == 0", "value": 5}, "value": 2.5}, "tickWidth": 0.8}},
               "y": {"field": "raa", "type": "quantitative", "scale": {"domain": [0, 1.44], "nice": false, "zero": false},
                 "axis": {"title": null, "labelOverlap": false, "tickCount": 100, "values": [0,0.04,0.08,0.12,0.16,0.2,0.24,0.28,0.32,0.36,0.4,0.44,0.48,0.52,0.56,0.6,0.64,0.68,0.72,0.76,0.8,0.84,0.88,0.92,0.96,1,1.04,1.08,1.12,1.16,1.2,1.24,1.28,1.32,1.36,1.4],
                   "labelExpr": "abs(datum.value*5 - round(datum.value*5)) < 0.01 ? format(datum.value, '~g') : ''",
                   "tickSize": {"condition": {"test": "abs(datum.value*5 - round(datum.value*5)) < 0.01", "value": 5}, "value": 2.5}, "tickWidth": 0.8, "labelFontSize": 8, "labelPadding": 1}}}},
            {"data": {"values": [{"label": "Au+Au Minimum Bias √sNN=200GeV"}]}, "mark": {"type": "text", "align": "left", "baseline": "middle", "fontSize": 6.5, "color": "black"},
             "encoding": {"x": {"datum": 0.9, "type": "quantitative"}, "y": {"datum": 1.28, "type": "quantitative"}, "text": {"field": "label"}}},
            {"data": {"values": [{"label": "PHENIX"}]}, "mark": {"type": "text", "align": "left", "baseline": "middle", "fontSize": 6.5, "color": "black"},
             "encoding": {"x": {"datum": 0.9, "type": "quantitative"}, "y": {"datum": 1.13, "type": "quantitative"}, "text": {"field": "label"}}}
          ]
        },
        {
          "width": 142, "height": 108,
          "view": {"stroke": "black", "strokeWidth": 1},
          "layer": [
            {"data": {"values": [{"ref": 1}]}, "mark": {"type": "rule", "strokeDash": [3, 2], "strokeWidth": 0.8, "color": "black"},
             "encoding": {"y": {"field": "ref", "type": "quantitative", "title": null, "scale": {"domain": [0, 1.44], "nice": false, "zero": false}}}},
            {"data": {"name": "global"}, "transform": [{"filter": "datum.panel == 'c0010' && datum.kind == 'ncoll'"}], "mark": {"type": "rule", "strokeWidth": 4, "color": "#aaaaaa"},
             "encoding": {"x": {"datum": 0.35, "type": "quantitative", "scale": {"domain": [0, 20], "nice": false, "zero": false}}, "y": {"field": "lo", "type": "quantitative", "title": null, "scale": {"domain": [0, 1.44], "nice": false, "zero": false}}, "y2": {"field": "hi"}}},
            {"data": {"name": "global"}, "transform": [{"filter": "datum.panel == 'c0010' && datum.kind == 'norm'"}], "mark": {"type": "rule", "strokeWidth": 5, "color": "#14a014"},
             "encoding": {"x": {"datum": 19.3, "type": "quantitative", "scale": {"domain": [0, 20], "nice": false, "zero": false}}, "y": {"field": "lo", "type": "quantitative", "title": null, "scale": {"domain": [0, 1.44], "nice": false, "zero": false}}, "y2": {"field": "hi"}}},
            {"data": {"name": "raa"}, "transform": [{"filter": "datum.panel == 'c0010'"}], "mark": {"type": "errorbar", "thickness": 4.5, "color": "#b4b4b4"},
             "encoding": {"x": {"field": "pt", "type": "quantitative", "title": null, "scale": {"domain": [0, 20], "nice": false, "zero": false}}, "y": {"field": "raa", "type": "quantitative", "title": null, "scale": {"domain": [0, 1.44], "nice": false, "zero": false}}, "yError": {"field": "sys"}}},
            {"data": {"name": "raa"}, "transform": [{"filter": "datum.panel == 'c0010'"}], "mark": {"type": "errorbar", "thickness": 1, "color": "black"},
             "encoding": {"x": {"field": "pt", "type": "quantitative", "title": null, "scale": {"domain": [0, 20], "nice": false, "zero": false}}, "y": {"field": "raa", "type": "quantitative", "title": null, "scale": {"domain": [0, 1.44], "nice": false, "zero": false}}, "yError": {"field": "stat"}}},
            {"data": {"name": "raa"}, "transform": [{"filter": "datum.panel == 'c0010'"}], "mark": {"type": "point", "filled": true, "size": 28, "color": "#ee1c1c", "opacity": 1},
             "encoding": {
               "x": {"field": "pt", "type": "quantitative", "scale": {"domain": [0, 20], "nice": false, "zero": false},
                 "axis": {"title": null, "labels": false, "labelOverlap": false, "tickCount": 100, "values": [0,0.5,1,1.5,2,2.5,3,3.5,4,4.5,5,5.5,6,6.5,7,7.5,8,8.5,9,9.5,10,10.5,11,11.5,12,12.5,13,13.5,14,14.5,15,15.5,16,16.5,17,17.5,18,18.5,19,19.5,20], "tickSize": {"condition": {"test": "datum.value % 2 == 0", "value": 5}, "value": 2.5}, "tickWidth": 0.8}},
               "y": {"field": "raa", "type": "quantitative", "scale": {"domain": [0, 1.44], "nice": false, "zero": false},
                 "axis": {"title": null, "labels": false, "labelOverlap": false, "tickCount": 100, "values": [0,0.04,0.08,0.12,0.16,0.2,0.24,0.28,0.32,0.36,0.4,0.44,0.48,0.52,0.56,0.6,0.64,0.68,0.72,0.76,0.8,0.84,0.88,0.92,0.96,1,1.04,1.08,1.12,1.16,1.2,1.24,1.28,1.32,1.36,1.4],
                   "tickSize": {"condition": {"test": "abs(datum.value*5 - round(datum.value*5)) < 0.01", "value": 5}, "value": 2.5}, "tickWidth": 0.8}}}},
            {"data": {"values": [{"label": "Au+Au 0-10% √sNN=200GeV"}]}, "mark": {"type": "text", "align": "left", "baseline": "middle", "fontSize": 6.5, "color": "black"},
             "encoding": {"x": {"datum": 0.9, "type": "quantitative"}, "y": {"datum": 1.28, "type": "quantitative"}, "text": {"field": "label"}}},
            {"data": {"values": [{"label": "PHENIX"}]}, "mark": {"type": "text", "align": "left", "baseline": "middle", "fontSize": 6.5, "color": "black"},
             "encoding": {"x": {"datum": 0.9, "type": "quantitative"}, "y": {"datum": 1.13, "type": "quantitative"}, "text": {"field": "label"}}}
          ]
        },
        {
          "width": 142, "height": 108,
          "view": {"stroke": "black", "strokeWidth": 1},
          "layer": [
            {"data": {"values": [{"ref": 1}]}, "mark": {"type": "rule", "strokeDash": [3, 2], "strokeWidth": 0.8, "color": "black"},
             "encoding": {"y": {"field": "ref", "type": "quantitative", "title": "π⁰ RAA", "scale": {"domain": [0, 1.44], "nice": false, "zero": false}}}},
            {"data": {"name": "global"}, "transform": [{"filter": "datum.panel == 'c2030' && datum.kind == 'ncoll'"}], "mark": {"type": "rule", "strokeWidth": 4, "color": "#aaaaaa"},
             "encoding": {"x": {"datum": 0.35, "type": "quantitative", "scale": {"domain": [0, 20], "nice": false, "zero": false}}, "y": {"field": "lo", "type": "quantitative", "title": "π⁰ RAA", "scale": {"domain": [0, 1.44], "nice": false, "zero": false}}, "y2": {"field": "hi"}}},
            {"data": {"name": "global"}, "transform": [{"filter": "datum.panel == 'c2030' && datum.kind == 'norm'"}], "mark": {"type": "rule", "strokeWidth": 5, "color": "#14a014"},
             "encoding": {"x": {"datum": 19.3, "type": "quantitative", "scale": {"domain": [0, 20], "nice": false, "zero": false}}, "y": {"field": "lo", "type": "quantitative", "title": "π⁰ RAA", "scale": {"domain": [0, 1.44], "nice": false, "zero": false}}, "y2": {"field": "hi"}}},
            {"data": {"name": "raa"}, "transform": [{"filter": "datum.panel == 'c2030'"}], "mark": {"type": "errorbar", "thickness": 4.5, "color": "#b4b4b4"},
             "encoding": {"x": {"field": "pt", "type": "quantitative", "title": null, "scale": {"domain": [0, 20], "nice": false, "zero": false}}, "y": {"field": "raa", "type": "quantitative", "title": "π⁰ RAA", "scale": {"domain": [0, 1.44], "nice": false, "zero": false}}, "yError": {"field": "sys"}}},
            {"data": {"name": "raa"}, "transform": [{"filter": "datum.panel == 'c2030'"}], "mark": {"type": "errorbar", "thickness": 1, "color": "black"},
             "encoding": {"x": {"field": "pt", "type": "quantitative", "title": null, "scale": {"domain": [0, 20], "nice": false, "zero": false}}, "y": {"field": "raa", "type": "quantitative", "title": "π⁰ RAA", "scale": {"domain": [0, 1.44], "nice": false, "zero": false}}, "yError": {"field": "stat"}}},
            {"data": {"name": "raa"}, "transform": [{"filter": "datum.panel == 'c2030'"}], "mark": {"type": "point", "filled": true, "size": 28, "color": "#ee1c1c", "opacity": 1},
             "encoding": {
               "x": {"field": "pt", "type": "quantitative", "scale": {"domain": [0, 20], "nice": false, "zero": false},
                 "axis": {"title": null, "labels": false, "labelOverlap": false, "tickCount": 100, "values": [0,0.5,1,1.5,2,2.5,3,3.5,4,4.5,5,5.5,6,6.5,7,7.5,8,8.5,9,9.5,10,10.5,11,11.5,12,12.5,13,13.5,14,14.5,15,15.5,16,16.5,17,17.5,18,18.5,19,19.5,20], "tickSize": {"condition": {"test": "datum.value % 2 == 0", "value": 5}, "value": 2.5}, "tickWidth": 0.8}},
               "y": {"field": "raa", "type": "quantitative", "scale": {"domain": [0, 1.44], "nice": false, "zero": false},
                 "axis": {"title": "π⁰ RAA", "titleFontSize": 10, "titleFontWeight": "normal", "titlePadding": 3, "labelOverlap": false, "tickCount": 100, "values": [0,0.04,0.08,0.12,0.16,0.2,0.24,0.28,0.32,0.36,0.4,0.44,0.48,0.52,0.56,0.6,0.64,0.68,0.72,0.76,0.8,0.84,0.88,0.92,0.96,1,1.04,1.08,1.12,1.16,1.2,1.24,1.28,1.32,1.36,1.4],
                   "labelExpr": "abs(datum.value*5 - round(datum.value*5)) < 0.01 && datum.value < 1.3 ? format(datum.value, '~g') : ''",
                   "tickSize": {"condition": {"test": "abs(datum.value*5 - round(datum.value*5)) < 0.01", "value": 5}, "value": 2.5}, "tickWidth": 0.8, "labelFontSize": 8, "labelPadding": 1}}}},
            {"data": {"values": [{"label": "Au+Au 20-30% √sNN=200GeV"}]}, "mark": {"type": "text", "align": "left", "baseline": "middle", "fontSize": 6.5, "color": "black"},
             "encoding": {"x": {"datum": 0.9, "type": "quantitative"}, "y": {"datum": 1.28, "type": "quantitative"}, "text": {"field": "label"}}},
            {"data": {"values": [{"label": "PHENIX"}]}, "mark": {"type": "text", "align": "left", "baseline": "middle", "fontSize": 6.5, "color": "black"},
             "encoding": {"x": {"datum": 0.9, "type": "quantitative"}, "y": {"datum": 1.13, "type": "quantitative"}, "text": {"field": "label"}}}
          ]
        },
        {
          "width": 142, "height": 108,
          "view": {"stroke": "black", "strokeWidth": 1},
          "layer": [
            {"data": {"values": [{"ref": 1}]}, "mark": {"type": "rule", "strokeDash": [3, 2], "strokeWidth": 0.8, "color": "black"},
             "encoding": {"y": {"field": "ref", "type": "quantitative", "title": null, "scale": {"domain": [0, 1.44], "nice": false, "zero": false}}}},
            {"data": {"name": "global"}, "transform": [{"filter": "datum.panel == 'c4050' && datum.kind == 'ncoll'"}], "mark": {"type": "rule", "strokeWidth": 4, "color": "#aaaaaa"},
             "encoding": {"x": {"datum": 0.35, "type": "quantitative", "scale": {"domain": [0, 20], "nice": false, "zero": false}}, "y": {"field": "lo", "type": "quantitative", "title": null, "scale": {"domain": [0, 1.44], "nice": false, "zero": false}}, "y2": {"field": "hi"}}},
            {"data": {"name": "global"}, "transform": [{"filter": "datum.panel == 'c4050' && datum.kind == 'norm'"}], "mark": {"type": "rule", "strokeWidth": 5, "color": "#14a014"},
             "encoding": {"x": {"datum": 19.3, "type": "quantitative", "scale": {"domain": [0, 20], "nice": false, "zero": false}}, "y": {"field": "lo", "type": "quantitative", "title": null, "scale": {"domain": [0, 1.44], "nice": false, "zero": false}}, "y2": {"field": "hi"}}},
            {"data": {"name": "raa"}, "transform": [{"filter": "datum.panel == 'c4050'"}], "mark": {"type": "errorbar", "thickness": 4.5, "color": "#b4b4b4"},
             "encoding": {"x": {"field": "pt", "type": "quantitative", "title": null, "scale": {"domain": [0, 20], "nice": false, "zero": false}}, "y": {"field": "raa", "type": "quantitative", "title": null, "scale": {"domain": [0, 1.44], "nice": false, "zero": false}}, "yError": {"field": "sys"}}},
            {"data": {"name": "raa"}, "transform": [{"filter": "datum.panel == 'c4050'"}], "mark": {"type": "errorbar", "thickness": 1, "color": "black"},
             "encoding": {"x": {"field": "pt", "type": "quantitative", "title": null, "scale": {"domain": [0, 20], "nice": false, "zero": false}}, "y": {"field": "raa", "type": "quantitative", "title": null, "scale": {"domain": [0, 1.44], "nice": false, "zero": false}}, "yError": {"field": "stat"}}},
            {"data": {"name": "raa"}, "transform": [{"filter": "datum.panel == 'c4050'"}], "mark": {"type": "point", "filled": true, "size": 28, "color": "#ee1c1c", "opacity": 1},
             "encoding": {
               "x": {"field": "pt", "type": "quantitative", "scale": {"domain": [0, 20], "nice": false, "zero": false},
                 "axis": {"title": null, "labels": false, "labelOverlap": false, "tickCount": 100, "values": [0,0.5,1,1.5,2,2.5,3,3.5,4,4.5,5,5.5,6,6.5,7,7.5,8,8.5,9,9.5,10,10.5,11,11.5,12,12.5,13,13.5,14,14.5,15,15.5,16,16.5,17,17.5,18,18.5,19,19.5,20], "tickSize": {"condition": {"test": "datum.value % 2 == 0", "value": 5}, "value": 2.5}, "tickWidth": 0.8}},
               "y": {"field": "raa", "type": "quantitative", "scale": {"domain": [0, 1.44], "nice": false, "zero": false},
                 "axis": {"title": null, "labels": false, "labelOverlap": false, "tickCount": 100, "values": [0,0.04,0.08,0.12,0.16,0.2,0.24,0.28,0.32,0.36,0.4,0.44,0.48,0.52,0.56,0.6,0.64,0.68,0.72,0.76,0.8,0.84,0.88,0.92,0.96,1,1.04,1.08,1.12,1.16,1.2,1.24,1.28,1.32,1.36,1.4],
                   "tickSize": {"condition": {"test": "abs(datum.value*5 - round(datum.value*5)) < 0.01", "value": 5}, "value": 2.5}, "tickWidth": 0.8}}}},
            {"data": {"values": [{"label": "Au+Au 40-50% √sNN=200GeV"}]}, "mark": {"type": "text", "align": "left", "baseline": "middle", "fontSize": 6.5, "color": "black"},
             "encoding": {"x": {"datum": 0.9, "type": "quantitative"}, "y": {"datum": 1.28, "type": "quantitative"}, "text": {"field": "label"}}},
            {"data": {"values": [{"label": "PHENIX"}]}, "mark": {"type": "text", "align": "left", "baseline": "middle", "fontSize": 6.5, "color": "black"},
             "encoding": {"x": {"datum": 0.9, "type": "quantitative"}, "y": {"datum": 1.13, "type": "quantitative"}, "text": {"field": "label"}}}
          ]
        },
        {
          "width": 142, "height": 108,
          "view": {"stroke": "black", "strokeWidth": 1},
          "layer": [
            {"data": {"values": [{"ref": 1}]}, "mark": {"type": "rule", "strokeDash": [3, 2], "strokeWidth": 0.8, "color": "black"},
             "encoding": {"y": {"field": "ref", "type": "quantitative", "title": null, "scale": {"domain": [0, 1.44], "nice": false, "zero": false}}}},
            {"data": {"name": "global"}, "transform": [{"filter": "datum.panel == 'c6070' && datum.kind == 'ncoll'"}], "mark": {"type": "rule", "strokeWidth": 4, "color": "#aaaaaa"},
             "encoding": {"x": {"datum": 0.35, "type": "quantitative", "scale": {"domain": [0, 20], "nice": false, "zero": false}}, "y": {"field": "lo", "type": "quantitative", "title": null, "scale": {"domain": [0, 1.44], "nice": false, "zero": false}}, "y2": {"field": "hi"}}},
            {"data": {"name": "global"}, "transform": [{"filter": "datum.panel == 'c6070' && datum.kind == 'norm'"}], "mark": {"type": "rule", "strokeWidth": 5, "color": "#14a014"},
             "encoding": {"x": {"datum": 19.3, "type": "quantitative", "scale": {"domain": [0, 20], "nice": false, "zero": false}}, "y": {"field": "lo", "type": "quantitative", "title": null, "scale": {"domain": [0, 1.44], "nice": false, "zero": false}}, "y2": {"field": "hi"}}},
            {"data": {"name": "raa"}, "transform": [{"filter": "datum.panel == 'c6070'"}], "mark": {"type": "errorbar", "thickness": 4.5, "color": "#b4b4b4"},
             "encoding": {"x": {"field": "pt", "type": "quantitative", "title": "pT (GeV/c)", "scale": {"domain": [0, 20], "nice": false, "zero": false}}, "y": {"field": "raa", "type": "quantitative", "title": null, "scale": {"domain": [0, 1.44], "nice": false, "zero": false}}, "yError": {"field": "sys"}}},
            {"data": {"name": "raa"}, "transform": [{"filter": "datum.panel == 'c6070'"}], "mark": {"type": "errorbar", "thickness": 1, "color": "black"},
             "encoding": {"x": {"field": "pt", "type": "quantitative", "title": "pT (GeV/c)", "scale": {"domain": [0, 20], "nice": false, "zero": false}}, "y": {"field": "raa", "type": "quantitative", "title": null, "scale": {"domain": [0, 1.44], "nice": false, "zero": false}}, "yError": {"field": "stat"}}},
            {"data": {"name": "raa"}, "transform": [{"filter": "datum.panel == 'c6070'"}], "mark": {"type": "point", "filled": true, "size": 28, "color": "#ee1c1c", "opacity": 1},
             "encoding": {
               "x": {"field": "pt", "type": "quantitative", "scale": {"domain": [0, 20], "nice": false, "zero": false},
                 "axis": {"title": "pT (GeV/c)", "titleX": 145, "titleFontSize": 11, "titleFontWeight": "normal", "titlePadding": 2, "labelOverlap": false, "tickCount": 100, "values": [0,0.5,1,1.5,2,2.5,3,3.5,4,4.5,5,5.5,6,6.5,7,7.5,8,8.5,9,9.5,10,10.5,11,11.5,12,12.5,13,13.5,14,14.5,15,15.5,16,16.5,17,17.5,18,18.5,19,19.5,20],
                   "labelExpr": "datum.value % 2 == 0 && datum.value < 19 ? '' + datum.value : ''", "labelFontSize": 8, "labelPadding": 1,
                   "tickSize": {"condition": {"test": "datum.value % 2 == 0", "value": 5}, "value": 2.5}, "tickWidth": 0.8}},
               "y": {"field": "raa", "type": "quantitative", "scale": {"domain": [0, 1.44], "nice": false, "zero": false},
                 "axis": {"title": null, "labelOverlap": false, "tickCount": 100, "values": [0,0.04,0.08,0.12,0.16,0.2,0.24,0.28,0.32,0.36,0.4,0.44,0.48,0.52,0.56,0.6,0.64,0.68,0.72,0.76,0.8,0.84,0.88,0.92,0.96,1,1.04,1.08,1.12,1.16,1.2,1.24,1.28,1.32,1.36,1.4],
                   "labelExpr": "abs(datum.value*5 - round(datum.value*5)) < 0.01 && datum.value < 1.3 ? format(datum.value, '~g') : ''",
                   "tickSize": {"condition": {"test": "abs(datum.value*5 - round(datum.value*5)) < 0.01", "value": 5}, "value": 2.5}, "tickWidth": 0.8, "labelFontSize": 8, "labelPadding": 1}}}},
            {"data": {"values": [{"label": "Au+Au 60-70% √sNN=200GeV"}]}, "mark": {"type": "text", "align": "left", "baseline": "middle", "fontSize": 6.5, "color": "black"},
             "encoding": {"x": {"datum": 0.9, "type": "quantitative"}, "y": {"datum": 1.3, "type": "quantitative"}, "text": {"field": "label"}}},
            {"data": {"values": [{"label": "PHENIX"}]}, "mark": {"type": "text", "align": "left", "baseline": "middle", "fontSize": 6.5, "color": "black"},
             "encoding": {"x": {"datum": 0.9, "type": "quantitative"}, "y": {"datum": 1.14, "type": "quantitative"}, "text": {"field": "label"}}}
          ]
        },
        {
          "width": 142, "height": 108,
          "view": {"stroke": "black", "strokeWidth": 1},
          "layer": [
            {"data": {"values": [{"ref": 1}]}, "mark": {"type": "rule", "strokeDash": [3, 2], "strokeWidth": 0.8, "color": "black"},
             "encoding": {"y": {"field": "ref", "type": "quantitative", "title": null, "scale": {"domain": [0, 1.44], "nice": false, "zero": false}}}},
            {"data": {"name": "global"}, "transform": [{"filter": "datum.panel == 'c8092' && datum.kind == 'ncoll'"}], "mark": {"type": "rule", "strokeWidth": 4, "color": "#aaaaaa"},
             "encoding": {"x": {"datum": 0.35, "type": "quantitative", "scale": {"domain": [0, 20], "nice": false, "zero": false}}, "y": {"field": "lo", "type": "quantitative", "title": null, "scale": {"domain": [0, 1.44], "nice": false, "zero": false}}, "y2": {"field": "hi"}}},
            {"data": {"name": "global"}, "transform": [{"filter": "datum.panel == 'c8092' && datum.kind == 'norm'"}], "mark": {"type": "rule", "strokeWidth": 5, "color": "#14a014"},
             "encoding": {"x": {"datum": 19.3, "type": "quantitative", "scale": {"domain": [0, 20], "nice": false, "zero": false}}, "y": {"field": "lo", "type": "quantitative", "title": null, "scale": {"domain": [0, 1.44], "nice": false, "zero": false}}, "y2": {"field": "hi"}}},
            {"data": {"name": "raa"}, "transform": [{"filter": "datum.panel == 'c8092'"}], "mark": {"type": "errorbar", "thickness": 4.5, "color": "#b4b4b4"},
             "encoding": {"x": {"field": "pt", "type": "quantitative", "title": null, "scale": {"domain": [0, 20], "nice": false, "zero": false}}, "y": {"field": "raa", "type": "quantitative", "title": null, "scale": {"domain": [0, 1.44], "nice": false, "zero": false}}, "yError": {"field": "sys"}}},
            {"data": {"name": "raa"}, "transform": [{"filter": "datum.panel == 'c8092'"}], "mark": {"type": "errorbar", "thickness": 1, "color": "black"},
             "encoding": {"x": {"field": "pt", "type": "quantitative", "title": null, "scale": {"domain": [0, 20], "nice": false, "zero": false}}, "y": {"field": "raa", "type": "quantitative", "title": null, "scale": {"domain": [0, 1.44], "nice": false, "zero": false}}, "yError": {"field": "stat"}}},
            {"data": {"name": "raa"}, "transform": [{"filter": "datum.panel == 'c8092'"}], "mark": {"type": "point", "filled": true, "size": 28, "color": "#ee1c1c", "opacity": 1},
             "encoding": {
               "x": {"field": "pt", "type": "quantitative", "scale": {"domain": [0, 20], "nice": false, "zero": false},
                 "axis": {"title": null, "labelOverlap": false, "tickCount": 100, "values": [0,0.5,1,1.5,2,2.5,3,3.5,4,4.5,5,5.5,6,6.5,7,7.5,8,8.5,9,9.5,10,10.5,11,11.5,12,12.5,13,13.5,14,14.5,15,15.5,16,16.5,17,17.5,18,18.5,19,19.5,20],
                   "labelExpr": "datum.value % 2 == 0 ? '' + datum.value : ''", "labelFontSize": 8, "labelPadding": 1,
                   "tickSize": {"condition": {"test": "datum.value % 2 == 0", "value": 5}, "value": 2.5}, "tickWidth": 0.8}},
               "y": {"field": "raa", "type": "quantitative", "scale": {"domain": [0, 1.44], "nice": false, "zero": false},
                 "axis": {"title": null, "labels": false, "labelOverlap": false, "tickCount": 100, "values": [0,0.04,0.08,0.12,0.16,0.2,0.24,0.28,0.32,0.36,0.4,0.44,0.48,0.52,0.56,0.6,0.64,0.68,0.72,0.76,0.8,0.84,0.88,0.92,0.96,1,1.04,1.08,1.12,1.16,1.2,1.24,1.28,1.32,1.36,1.4],
                   "tickSize": {"condition": {"test": "abs(datum.value*5 - round(datum.value*5)) < 0.01", "value": 5}, "value": 2.5}, "tickWidth": 0.8}}}},
            {"data": {"values": [{"label": "Au+Au 80-92% √sNN=200GeV"}]}, "mark": {"type": "text", "align": "left", "baseline": "middle", "fontSize": 6.5, "color": "black"},
             "encoding": {"x": {"datum": 0.9, "type": "quantitative"}, "y": {"datum": 1.3, "type": "quantitative"}, "text": {"field": "label"}}},
            {"data": {"values": [{"label": "PHENIX"}]}, "mark": {"type": "text", "align": "left", "baseline": "middle", "fontSize": 6.5, "color": "black"},
             "encoding": {"x": {"datum": 0.9, "type": "quantitative"}, "y": {"datum": 1.14, "type": "quantitative"}, "text": {"field": "label"}}}
          ]
        }
      ]
    }
  ]
}
]
}
